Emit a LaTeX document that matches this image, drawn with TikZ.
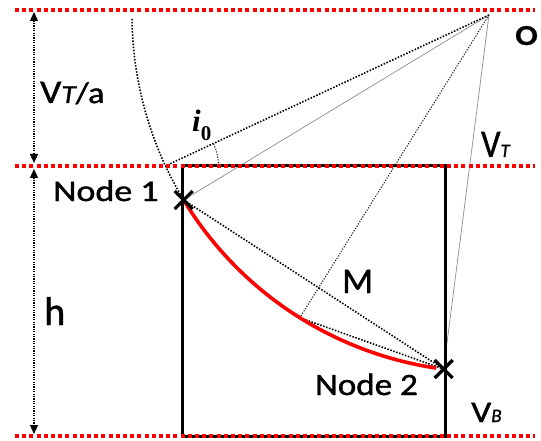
\documentclass[tikz,border=0pt]{standalone}
\usepackage{fontspec}
\setmainfont{Carlito}[FakeBold=1.2]
\newfontfamily\boldO{Carlito Bold}[FakeBold=0.6]
\newfontfamily\serifi{Liberation Serif}
\usetikzlibrary{arrows.meta,calc}
\tikzset{
 redline/.style={red, line width=3.6pt, dash pattern=on 4pt off 3.2pt},
 boxline/.style={black, line width=3pt},
 dotline/.style={black, line width=1.6pt, dash pattern=on 1.5pt off 1.6pt},
 thindot/.style={black!85, line width=1.1pt, dash pattern=on 1.2pt off 1.5pt},
 grayline/.style={black!45, line width=0.7pt},
 redarc/.style={red, line width=3.6pt},
 crossline/.style={black, line width=3.2pt},
 dimline/.style={black, line width=1.3pt, dash pattern=on 1.2pt off 1.2pt, {Triangle[width=8pt,length=9pt]}-{Triangle[width=8pt,length=9pt]}},
 lbl/.style={inner sep=0pt, anchor=base west},
}
\begin{document}
\begin{tikzpicture}[x=1pt,y=1pt]
\useasboundingbox (0,0) rectangle (541,-441);
% key points
\coordinate (O) at (489,-15);
\coordinate (n1) at ($(O)+(211.2:357)$);
\coordinate (n2) at ($(O)+(262.7:357)$);
\coordinate (P) at ($(O)+(205.0:357)$);
\coordinate (Mp) at ($(O)+(238:357)$);
\coordinate (Pr) at ($(P)+(53,0)$);
% red level lines ends
\coordinate (tl) at (15,-10);  \coordinate (tr) at (535,-10);
\coordinate (ml) at (15,-166); \coordinate (mr) at (535,-166);
\coordinate (bl) at (15,-436); \coordinate (br) at (535,-436);
% box corners
\coordinate (b1) at (182,-166); \coordinate (b2) at (445,-436);
% dimension ends
\coordinate (d1) at (34,-12); \coordinate (d2) at (34,-163);
\coordinate (d3) at (34,-169); \coordinate (d4) at (34,-434);

% gray solid rays
\draw[grayline] (O) -- (n1);
\draw[grayline] (O) -- (n2);
% dotted construction lines
\draw[dotline] (O) -- (P);
\draw[thindot] (O) -- (Mp);
\draw[dotline] (n1) -- (n2);
\draw[dotline] (Mp) -- (n2);
\draw[dotline] (n1) arc[start angle=211.2, end angle=180.6, radius=357];
\draw[thindot] (Pr) arc[start angle=0, end angle=25, radius=53];
% dimension arrows
\draw[dimline] (d1) -- (d2);
\draw[dimline] (d3) -- (d4);
% box
\draw[boxline] (b1) rectangle (b2);
% red dotted levels
\draw[redline] (tl) -- (tr);
\draw[redline] (ml) -- (mr);
\draw[redline] (bl) -- (br);
% ray path
\draw[redarc] (n1) arc[start angle=211.2, end angle=261.5, radius=357];
% crosses
\draw[crossline] ($(n1)+(-9,9)$) -- ($(n1)+(9,-9)$);
\draw[crossline] ($(n1)+(-9,-9)$) -- ($(n1)+(9,9)$);
\draw[crossline] ($(n2)+(-9,9)$) -- ($(n2)+(9,-9)$);
\draw[crossline] ($(n2)+(-9,-9)$) -- ($(n2)+(9,9)$);
% labels
\node[lbl] (lvta) at (40,-103) {\scalebox{1.13}[1]{\fontsize{33}{33}\selectfont V\fontsize{26}{26}\selectfont\itshape T\upshape\fontsize{30}{30}\selectfont/a}};
\node[lbl] (lnode1) at (53,-201) {\scalebox{1.2}[1]{\fontsize{30}{30}\selectfont Node 1}};
\node[lbl] (lnode2) at (315,-395) {\scalebox{1.13}[1]{\fontsize{31}{31}\selectfont Node 2}};
\node[lbl] (lh) at (44,-325) {\fontsize{40}{40}\selectfont h};
\node[lbl] (lM) at (342,-293) {\fontsize{36}{36}\selectfont M};
\node[lbl] (lvt) at (481,-157) {\scalebox{0.87}[1]{\fontsize{39}{39}\selectfont V}\fontsize{19}{19}\selectfont\itshape T};
\node[lbl] (lvb) at (471,-422) {\scalebox{1.18}[1]{\fontsize{30}{30}\selectfont V}\fontsize{19}{19}\selectfont\itshape B};
\node[lbl] (lO) at (515,-45) {\scalebox{1.15}[1]{\boldO\fontsize{29}{29}\selectfont O}};
\node[lbl] (li) at (192,-132) {\serifi\bfseries\itshape\fontsize{31}{31}\selectfont i\raisebox{-9pt}{\upshape\fontsize{21}{21}\selectfont 0}};
\end{tikzpicture}
\end{document}
